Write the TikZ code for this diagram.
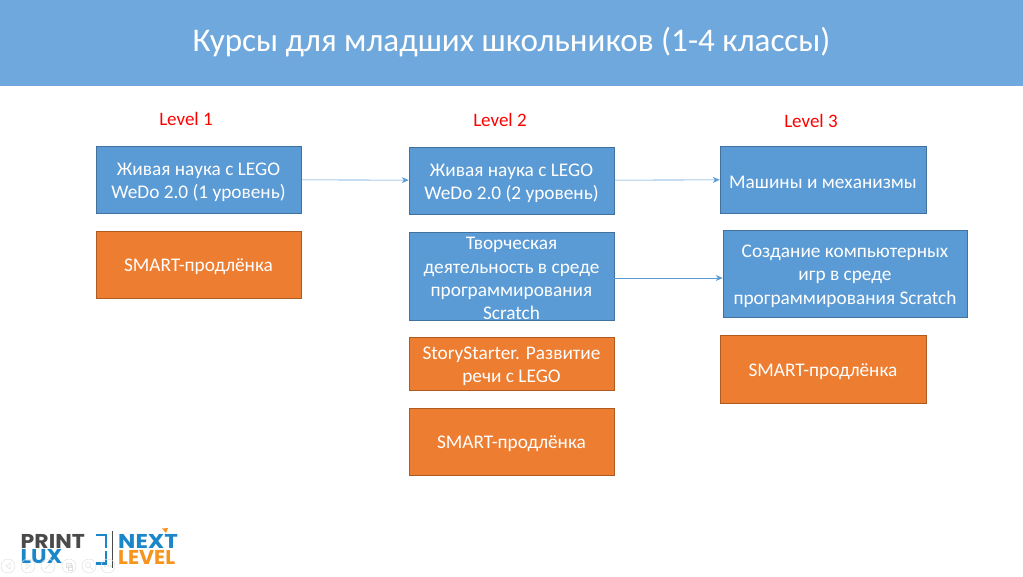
\documentclass[tikz,border=0pt]{standalone}
\usepackage{fontspec}
\usetikzlibrary{arrows.meta}
\setmainfont{Carlito}
\newfontfamily\logofont{Poppins}
\newcommand{\liftline}{\rule{0pt}{18pt}}
\definecolor{bluebox}{HTML}{5B9BD5}
\definecolor{bluehead}{HTML}{6FA8DC}
\definecolor{bluedark}{HTML}{41719C}
\definecolor{orangebox}{HTML}{ED7D31}
\definecolor{orangedark}{HTML}{AE5A21}
\definecolor{logoblue}{HTML}{1B87C9}
\definecolor{logoorange}{HTML}{F7941D}
\definecolor{logogray}{HTML}{4A4A4A}
\tikzset{
  course/.style={draw=bluedark,fill=bluebox,text=white,minimum width=205pt,align=center,inner sep=0pt,
    font=\fontsize{19.3}{23.3}\selectfont,line width=0.6pt},
  extra/.style={course,draw=orangedark,fill=orangebox},
  level/.style={text=red,font=\fontsize{19}{22}\selectfont},
  link/.style={-{Stealth[length=7pt,width=6pt]},draw=bluebox,line width=0.6pt},
  logotext/.style={anchor=west,inner sep=0pt,font=\logofont\fontsize{20}{20}\selectfont\bfseries},
  ctrl/.style={draw=black!12,line width=0.5pt}
}
\begin{document}
\begin{tikzpicture}[x=1pt,y=-1pt]
  \useasboundingbox (0,0) rectangle (1023,576);
  \fill[bluehead] (0,0) rectangle (1023,86);
  \path (511.5,42.5) node[text=white,font=\fontsize{33.1}{38}\selectfont] (title) {Курсы для младших школьников (1-4 классы)};
  % levels
  \path (186,119.3) node[level] (L1) {Level 1};
  \path (500,120.3) node[level] (L2) {Level 2};
  \path (811,120.8) node[level] (L3) {Level 3};
  % first column
  \path (198.5,179.5) node[course,minimum height=67pt] (A1) {\liftline Живая наука с LEGO\\WeDo 2.0 (1 уровень)};
  \path (198.5,264.5) node[extra,minimum height=67pt] (A2) {\liftline SMART-продлёнка};
  % second column
  \path (511.5,180.5) node[course,minimum height=67pt] (B1) {\liftline Живая наука с LEGO\\WeDo 2.0 (2 уровень)};
  \path (511.5,276) node[course,minimum height=86pt] (B2) {\liftline Творческая\\деятельность в среде\\программирования\\Scratch};
  \path (511.5,363.5) node[extra,minimum height=53pt] (B3) {\liftline StoryStarter. Развитие\\речи с LEGO};
  \path (511.5,441.5) node[extra,minimum height=67pt] (B4) {\liftline SMART-продлёнка};
  % third column
  \path (823,179.5) node[course,minimum height=67pt,minimum width=206pt] (C1) {\liftline Машины и механизмы};
  \path (845,273.5) node[course,minimum height=87pt,minimum width=244pt] (C2) {\liftline Создание компьютерных\\игр в среде\\программирования Scratch};
  \path (823,369) node[extra,minimum height=68pt,minimum width=206pt] (C3) {\liftline SMART-продлёнка};
  % arrows
  \draw[link] (A1) -- (B1);
  \draw[link] (B1) -- (C1);
  \draw[link] ([yshift=-2pt]B2.east) -- ([yshift=-4.5pt]C2.west);
  % logo
  \path (20.5,541) node[logotext,text=logogray,xscale=1.1] (print) {PRINT};
  \path (20.5,557) node[logotext,text=logoblue,xscale=1.1] (lux) {LUX};
  \path (118,541) node[logotext,text=logoblue,xscale=1.15] (next) {NEXT};
  \path (118,557) node[logotext,text=logoorange,xscale=1.03] (lvl) {LEVEL};
  \draw[logoblue,line width=2.2pt] (96,535) -- (106,535) -- (106,548);
  \draw[logoblue,line width=2.2pt] (106,551) -- (106,563.5) -- (96,563.5);
  \draw[logogray,line width=0.7pt] (112,531) -- (112,568);
  \fill[logoorange] (162,528.5) -- (168,528) -- (166,533) -- cycle;
  % slide controls
  \foreach \cx in {8,28,48,69,89,108}
    \draw[ctrl] (\cx,566) circle (7pt);
  \draw[ctrl] (10,563) -- (6,566) -- (10,569) -- cycle;
  \draw[ctrl] (26,563) -- (30,566) -- (26,569) -- cycle;
  \draw[ctrl] (45,569) -- (51,563);
  \draw[ctrl] (66,563) rectangle (71,567) (68,565) rectangle (72,570);
  \draw[ctrl] (88,565) circle (2.5pt) (90,567) -- (93,570);
  \foreach \cx in {105,108,111}
    \fill[black!15] (\cx,566) circle (0.8pt);
\end{tikzpicture}
\end{document}
